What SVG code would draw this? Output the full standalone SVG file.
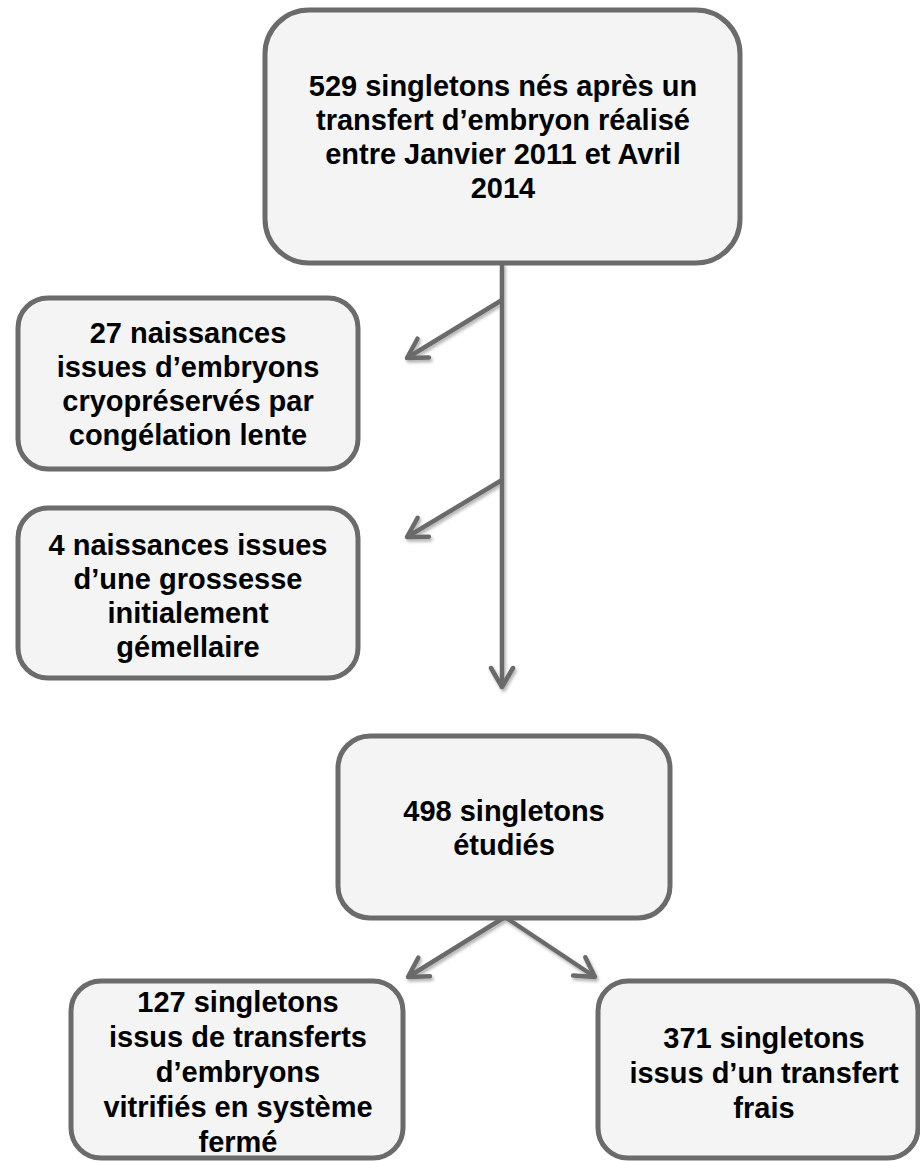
<svg xmlns="http://www.w3.org/2000/svg" width="920" height="1161" viewBox="0 0 920 1161">
<style>
.box{fill:#f4f4f4;stroke:#6b6b6b;stroke-width:5}
.t{font-family:"Liberation Sans",Arial,sans-serif;font-weight:bold;font-size:29px;fill:#000;text-anchor:middle}
.c{stroke:#6b6b6b;stroke-width:4.5;fill:none}
</style>
<defs>
<marker id="ah" viewBox="-26 -16 30 32" refX="0" refY="0" markerWidth="30" markerHeight="32" markerUnits="userSpaceOnUse" orient="auto">
<polyline points="-19,-11 0,0 -19,11" fill="none" stroke="#6b6b6b" stroke-width="4.5" stroke-linecap="round" stroke-linejoin="round"/>
</marker>
<filter id="sh" x="-20%" y="-20%" width="140%" height="140%">
<feDropShadow dx="1.5" dy="2.5" stdDeviation="1.8" flood-color="#000" flood-opacity="0.3"/>
</filter>
</defs>
<rect width="920" height="1161" fill="#fff"/>
<g id="connectors" filter="url(#sh)">
<line class="c" x1="502" y1="263" x2="502" y2="687" marker-end="url(#ah)"/>
<line class="c" x1="502" y1="300" x2="407" y2="358" marker-end="url(#ah)"/>
<line class="c" x1="502" y1="480" x2="407" y2="537" marker-end="url(#ah)"/>
<line class="c" x1="505" y1="917" x2="408" y2="977" marker-end="url(#ah)"/>
<line class="c" x1="505" y1="917" x2="595" y2="977" marker-end="url(#ah)"/>
</g>
<g id="n1">
<rect class="box" x="265" y="10" width="475" height="253" rx="44"/>
<text class="t" x="503" y="96">529 singletons nés après un</text>
<text class="t" x="503" y="130">transfert d’embryon réalisé</text>
<text class="t" x="503" y="164">entre Janvier 2011 et Avril</text>
<text class="t" x="503" y="198">2014</text>
</g>
<g id="n2">
<rect class="box" x="18" y="298" width="340" height="171" rx="30"/>
<text class="t" x="188" y="343">27 naissances</text>
<text class="t" x="188" y="377">issues d’embryons</text>
<text class="t" x="188" y="411">cryopréservés par</text>
<text class="t" x="188" y="445">congélation lente</text>
</g>
<g id="n3">
<rect class="box" x="18" y="508" width="340" height="170" rx="30"/>
<text class="t" x="188" y="555">4 naissances issues</text>
<text class="t" x="188" y="589">d’une grossesse</text>
<text class="t" x="188" y="623">initialement</text>
<text class="t" x="188" y="657">gémellaire</text>
</g>
<g id="n4">
<rect class="box" x="338" y="736" width="332" height="182" rx="32"/>
<text class="t" x="504" y="821">498 singletons</text>
<text class="t" x="504" y="855">étudiés</text>
</g>
<g id="n5">
<rect class="box" x="71" y="981" width="332" height="177" rx="30"/>
<text class="t" x="238" y="1012">127 singletons</text>
<text class="t" x="238" y="1047">issus de transferts</text>
<text class="t" x="238" y="1082">d’embryons</text>
<text class="t" x="238" y="1117">vitrifiés en système</text>
<text class="t" x="238" y="1152">fermé</text>
</g>
<g id="n6">
<rect class="box" x="598" y="981" width="320" height="177" rx="30"/>
<text class="t" x="764" y="1048">371 singletons</text>
<text class="t" x="764" y="1083">issus d’un transfert</text>
<text class="t" x="764" y="1118">frais</text>
</g>
</svg>
